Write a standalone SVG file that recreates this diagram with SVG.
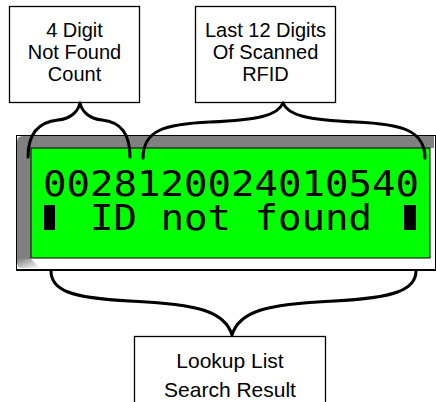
<svg xmlns="http://www.w3.org/2000/svg" width="436" height="402" viewBox="0 0 436 402">
<style>
.box{fill:#fff;stroke:#000;stroke-width:1.3}
.lbl{font-family:"Liberation Sans",Arial,sans-serif;font-size:20px;fill:#000;text-anchor:middle}
.lbl3{font-family:"Liberation Sans",Arial,sans-serif;font-size:21px;fill:#000;text-anchor:middle}
.lcd{font-family:"DejaVu Sans Mono","Liberation Mono",monospace;font-size:36px;fill:#000}
.brace{fill:none;stroke:#000;stroke-width:3;stroke-linecap:round;stroke-linejoin:round}
</style>
<defs>
<linearGradient id="bev" x1="0" y1="0" x2="1" y2="1">
<stop offset="0" stop-color="#808080"/>
<stop offset="1" stop-color="#ffffff"/>
</linearGradient>
</defs>
<rect width="436" height="402" fill="#fff"/>
<g id="lcd">
<rect x="16" y="135" width="420" height="136" fill="#000"/>
<rect x="17" y="136" width="418" height="133" fill="#ffffff"/>
<path d="M23,136 H434 V148 H31 V259 H17 V142 Q17,136 23,136 Z" fill="#808080"/>
<path d="M17,259 H31 L40,268 H22 Q17,268 17,263 Z" fill="url(#bev)"/>
<rect x="31" y="148" width="399" height="110" fill="#00ff00" stroke="#000" stroke-width="1"/>
<text class="lcd" x="43" y="196" textLength="376" lengthAdjust="spacingAndGlyphs">0028120024010540</text>
<rect x="44" y="205" width="11" height="25" fill="#000"/>
<text class="lcd" x="90" y="230" textLength="282" lengthAdjust="spacingAndGlyphs">ID not found</text>
<rect x="404" y="205" width="12" height="25" fill="#000"/>
</g>
<g id="box-count">
<rect class="box" x="9.5" y="6.5" width="130" height="96"/>
<text class="lbl" x="74.5" y="37">4 Digit</text>
<text class="lbl" x="74.5" y="59">Not Found</text>
<text class="lbl" x="74.5" y="81">Count</text>
</g>
<g id="box-rfid">
<rect class="box" x="195.5" y="6.5" width="140" height="96"/>
<text class="lbl" x="265.5" y="37">Last 12 Digits</text>
<text class="lbl" x="265.5" y="59">Of Scanned</text>
<text class="lbl" x="265.5" y="81">RFID</text>
</g>
<g id="box-result">
<rect class="box" x="134.5" y="336.5" width="191" height="80"/>
<text class="lbl3" x="230" y="368">Lookup List</text>
<text class="lbl3" x="230" y="397">Search Result</text>
</g>
<g id="connectors">
<path class="brace" d="M28,157 C28,135 38,122 58,120 C70,119 78,112 80,103 C82,112 90,119 102,120 C122,122 130,135 130,157"/>
<path class="brace" d="M143,158 C143,130 165,124 210,122 C260,120 278,115 283,103 C288,115 306,120 356,122 C401,124 425,130 425,158"/>
<path class="brace" d="M51,271 C51,290 70,298 130,301 C200,304 225,312 232,335 C239,312 264,304 334,301 C394,298 416,290 416,271"/>
</g>
</svg>
